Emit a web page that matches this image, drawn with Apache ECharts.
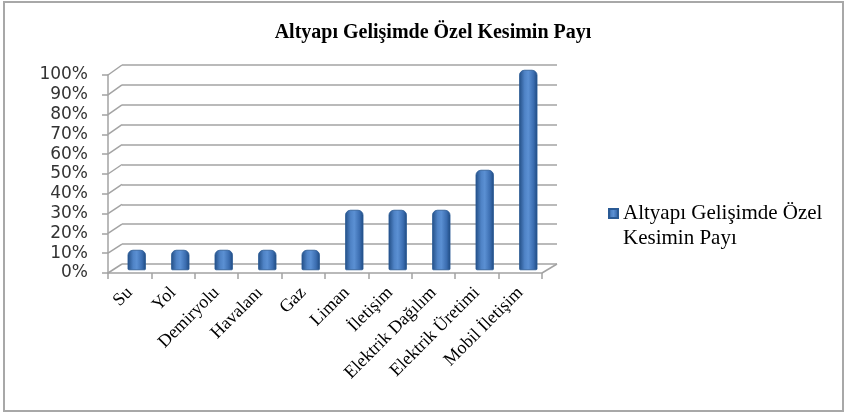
<!DOCTYPE html>
<html>
<head>
<meta charset="utf-8">
<script src="https://cdn.jsdelivr.net/npm/echarts@6/dist/echarts.min.js"></script>
<style>html,body{margin:0;padding:0;background:#fff}#c{width:846px;height:415px}</style>
</head>
<body>
<div id="c"></div>
<script>
const categories = ['Su', 'Yol', 'Demiryolu', 'Havalanı', 'Gaz', 'Liman', 'İletişim', 'Elektrik Dağılım', 'Elektrik Üretimi', 'Mobil İletişim'];
const values = [10, 10, 10, 10, 10, 30, 30, 30, 50, 100];
const yTicks = [0, 10, 20, 30, 40, 50, 60, 70, 80, 90, 100];
const seriesName = 'Altyapı Gelişimde Özel Kesimin Payı';
const legendLines = ['Altyapı Gelişimde Özel', 'Kesimin Payı'];
const titleText = 'Altyapı Gelişimde Özel Kesimin Payı';

const W = 846, H = 415;
const back = {left: 122, right: W - 557, top: 65, bottom: H - 264};
const mid = {left: 115, right: W - 550, top: 70, bottom: H - 270};
const front = {left: 108, right: W - 542, top: 75, bottom: H - 273};
const gridColor = '#a3a3a3';

const chart = echarts.init(document.getElementById('c'));
const yMin = yTicks[0], yMax = yTicks[yTicks.length - 1], yStep = yTicks[1] - yTicks[0];

const barGradient = new echarts.graphic.LinearGradient(0, 0, 1, 0, [
  {offset: 0, color: '#234f86'},
  {offset: 0.3, color: '#4f83c6'},
  {offset: 0.5, color: '#5b90d3'},
  {offset: 0.8, color: '#3b6db0'},
  {offset: 1, color: '#1f4a80'}
]);

chart.setOption({
  animation: false,
  backgroundColor: '#fff',
  title: {
    text: titleText,
    left: 428, top: 18, textAlign: 'center',
    textStyle: {fontFamily: 'Liberation Serif', fontWeight: 'bold', fontSize: 20, color: '#000'}
  },
  legend: {
    left: 603, top: 171,
    icon: 'rect', itemWidth: 9, itemHeight: 9, itemGap: 3,
    formatter: function () { return ' \n' + legendLines.join('\n'); },
    textStyle: {fontFamily: 'Liberation Serif', fontSize: 21, color: '#000', lineHeight: 25}
  },
  grid: [
    Object.assign({containLabel: false}, back),
    Object.assign({containLabel: false}, mid),
    Object.assign({containLabel: false}, front)
  ],
  xAxis: [
    {gridIndex: 0, type: 'category', data: categories, show: false},
    {gridIndex: 1, type: 'category', data: categories, show: false},
    {gridIndex: 2, type: 'category', data: categories,
      axisLine: {show: true, lineStyle: {color: gridColor, width: 1.5}},
      axisTick: {show: true, length: 6, lineStyle: {color: gridColor, width: 1.5}},
      axisLabel: {rotate: 45, margin: 17, interval: 0, fontFamily: 'Liberation Serif', fontSize: 18, color: '#000'},
      splitLine: {show: false}}
  ],
  yAxis: [
    {gridIndex: 0, type: 'value', min: yMin, max: yMax, interval: yStep,
      axisLine: {show: false}, axisTick: {show: false}, axisLabel: {show: false},
      splitLine: {show: true, lineStyle: {color: gridColor, width: 1.5}}},
    {gridIndex: 1, type: 'value', min: yMin, max: yMax, interval: yStep, show: false,
      splitLine: {show: false}},
    {gridIndex: 2, type: 'value', min: yMin, max: yMax, interval: yStep,
      axisLine: {show: true, lineStyle: {color: gridColor, width: 1.5}},
      axisTick: {show: true, length: 6, lineStyle: {color: gridColor, width: 1.5}},
      axisLabel: {formatter: '{value}%', margin: 20, fontFamily: 'DejaVu Sans', fontSize: 17, color: '#333'},
      splitLine: {show: false}}
  ],
  series: [{
    name: seriesName,
    type: 'bar',
    xAxisIndex: 1, yAxisIndex: 1,
    data: values,
    barWidth: 18,
    itemStyle: {color: barGradient, borderRadius: [5, 5, 1, 1], borderColor: '#2a5a95', borderWidth: 0.5}
  }]
});

// pseudo-3D connectors between front axis and back wall, positioned by axis scales
const graphics = [];
yTicks.forEach(function (v) {
  const yf = chart.convertToPixel({yAxisIndex: 2}, v);
  const yb = chart.convertToPixel({yAxisIndex: 0}, v);
  graphics.push({type: 'line', shape: {x1: front.left, y1: yf, x2: back.left, y2: yb},
    style: {stroke: gridColor, lineWidth: 1.5}, z: 1});
});
const yf0 = chart.convertToPixel({yAxisIndex: 2}, yMin);
const yb0 = chart.convertToPixel({yAxisIndex: 0}, yMin);
graphics.push({type: 'line', shape: {x1: W - front.right, y1: yf0, x2: W - back.right, y2: yb0},
  style: {stroke: gridColor, lineWidth: 1.5}, z: 1});
graphics.push({type: 'rect', shape: {x: 4, y: 2, width: 839, height: 409},
  style: {fill: 'none', stroke: '#a8a8a8', lineWidth: 2}, z: 100});
chart.setOption({graphic: graphics});
</script>
</body>
</html>
